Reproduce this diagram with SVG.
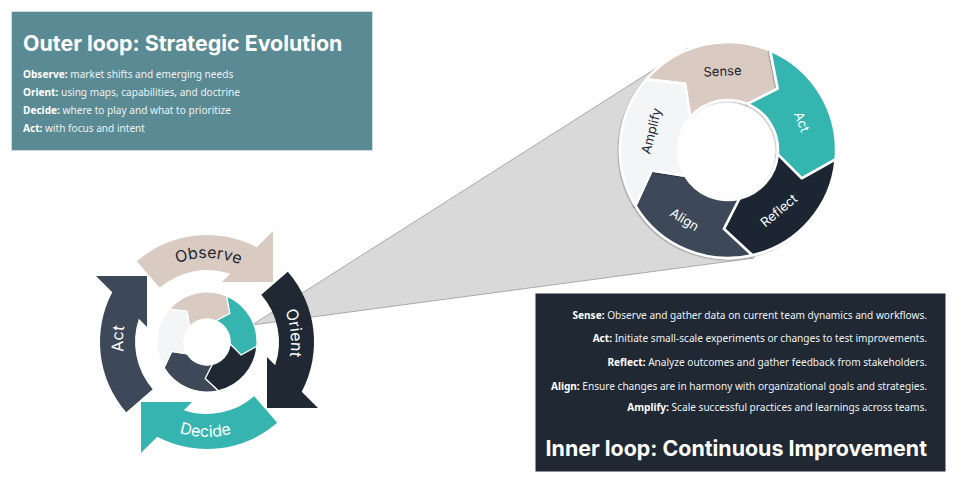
<svg xmlns="http://www.w3.org/2000/svg" width="960" height="480" viewBox="0 0 960 480">
<style>
.ttl{font-family:Inter,"Liberation Sans",sans-serif;font-weight:700;font-size:21.4px;fill:#ffffff}
.body{font-family:"Noto Sans","Liberation Sans",sans-serif;font-size:10.1px;fill:#eef2f3}
.b{font-weight:700;fill:#ffffff}
.seg{stroke:#ffffff;stroke-width:2.5;stroke-linejoin:round}
.lbl{font-family:Inter,"Noto Sans",sans-serif;font-size:13px;text-anchor:middle}
.olbl{font-family:Inter,"Noto Sans",sans-serif;font-size:16px;text-anchor:middle}
.beige{fill:#d9cbc1}
.teal{fill:#36b5b0}
.navy{fill:#1f2833}
.slate{fill:#3d4858}
.light{fill:#f4f5f7}
.dk{fill:#1f2833}
.wt{fill:#ffffff}
</style>
<defs>
<filter id="sh" x="-20%" y="-20%" width="140%" height="140%">
<feDropShadow dx="-1.2" dy="1.2" stdDeviation="0.7" flood-color="#000" flood-opacity="0.22"/>
</filter>
<path id="sSense" d="M 646.49 79.14 A 108 108 0 0 1 770.2 50.58 L 777.71 88.61 L 747.54 103.97 A 50 50 0 0 0 690.26 117.19 L 684.98 83.74 Z"/>
<path id="sAct" d="M 770.2 50.58 A 108 108 0 0 1 835.59 159.41 L 801.75 178.31 L 777.81 154.36 A 50 50 0 0 0 747.54 103.97 L 777.71 88.61 Z"/>
<path id="sReflect" d="M 835.59 159.41 A 108 108 0 0 1 752.3 255.24 L 723.87 228.89 L 739.25 198.72 A 50 50 0 0 0 777.81 154.36 L 801.75 178.31 Z"/>
<path id="sAlign" d="M 752.3 255.24 A 108 108 0 0 1 635.42 205.62 L 651.69 170.45 L 685.14 175.75 A 50 50 0 0 0 739.25 198.72 L 723.87 228.89 Z"/>
<path id="sAmplify" d="M 635.42 205.62 A 108 108 0 0 1 646.49 79.14 L 684.98 83.74 L 690.26 117.19 A 50 50 0 0 0 685.14 175.75 L 651.69 170.45 Z"/>
<path id="pObserve" d="M 148.65 281.58 A 84 84 0 0 1 267.42 283.65"/>
<path id="pOrient" d="M 259.86 276.72 A 84 84 0 0 1 272.28 394.86"/>
<path id="pAct" d="M 145.56 399.29 A 84 84 0 0 1 149.71 280.56"/>
<path id="pDecide" d="M 138.67 408 A 95 95 0 0 0 273 410.33"/>
</defs>

<rect width="960" height="480" fill="#ffffff"/>

<g id="connectors">
<polygon points="252,325 688,48 754,258" fill="#d9d9d9" stroke="#a9a9a9" stroke-width="1"/>
</g>

<g id="outer-box">
<rect x="11.5" y="11.5" width="361" height="139" fill="#5a8a93" stroke="#cddcdf" stroke-width="1"/>
<text class="ttl" x="23" y="51">Outer loop: Strategic Evolution</text>
<text class="body" x="23" y="78"><tspan class="b">Observe:</tspan> market shifts and emerging needs</text>
<text class="body" x="23" y="96"><tspan class="b">Orient:</tspan> using maps, capabilities, and doctrine</text>
<text class="body" x="23" y="114"><tspan class="b">Decide:</tspan> where to play and what to prioritize</text>
<text class="body" x="23" y="132"><tspan class="b">Act:</tspan> with focus and intent</text>
</g>

<g id="outer-observe">
<path class="beige" d="M 159.8 287.7 L 136.8 261.2 A 107 107 0 0 1 256.74 247.26 L 273 231 L 273 282 L 222 282 L 230.17 273.83 A 72 72 0 0 0 159.8 287.7 Z"/>
<text class="olbl dk"><textPath href="#pObserve" startOffset="50%">Observe</textPath></text>
</g>
<g id="outer-orient">
<path class="navy" d="M 261.3 294.8 L 287.8 271.8 A 107 107 0 0 1 301.74 391.74 L 318 408 L 267 408 L 267 357 L 275.17 365.17 A 72 72 0 0 0 261.3 294.8 Z"/>
<text class="olbl wt"><textPath href="#pOrient" startOffset="50%">Orient</textPath></text>
</g>
<g id="outer-decide">
<path class="teal" d="M 254.2 396.3 L 277.2 422.8 A 107 107 0 0 1 157.26 436.74 L 141 453 L 141 402 L 192 402 L 183.83 410.17 A 72 72 0 0 0 254.2 396.3 Z"/>
<text class="olbl wt"><textPath href="#pDecide" startOffset="50%">Decide</textPath></text>
</g>
<g id="outer-act">
<path class="slate" d="M 152.7 389.2 L 126.2 412.2 A 107 107 0 0 1 112.26 292.26 L 96 276 L 147 276 L 147 327 L 138.83 318.83 A 72 72 0 0 0 152.7 389.2 Z"/>
<text class="olbl wt"><textPath href="#pAct" startOffset="50%">Act</textPath></text>
</g>

<g id="inner-ring-small" transform="translate(207 342) scale(0.463) translate(-728 -150)">
<use href="#sSense" class="seg beige"/>
<use href="#sAct" class="seg teal"/>
<use href="#sReflect" class="seg navy"/>
<use href="#sAlign" class="seg slate"/>
<use href="#sAmplify" class="seg light"/>
<circle cx="728" cy="150" r="48.8" fill="#ffffff"/>
</g>

<circle cx="728" cy="150" r="49" fill="#ffffff"/>
<g id="ring-sense">
<use href="#sSense" class="seg beige" filter="url(#sh)"/>
<text class="lbl dk" x="722.5" y="71.2" dy="0.35em" transform="rotate(-3 722.5 71.2)">Sense</text>
</g>
<g id="ring-act">
<use href="#sAct" class="seg teal" filter="url(#sh)"/>
<text class="lbl wt" x="801.75" y="121.69" dy="0.35em" transform="rotate(69 801.75 121.69)">Act</text>
</g>
<g id="ring-reflect">
<use href="#sReflect" class="seg navy" filter="url(#sh)"/>
<text class="lbl wt" x="778.78" y="210.52" dy="0.35em" transform="rotate(-40 778.78 210.52)">Reflect</text>
</g>
<g id="ring-align">
<use href="#sAlign" class="seg slate" filter="url(#sh)"/>
<text class="lbl wt" x="684.5" y="219.5" dy="0.35em" transform="rotate(32 684.5 219.5)">Align</text>
</g>
<g id="ring-amplify">
<use href="#sAmplify" class="seg light" filter="url(#sh)"/>
<text class="lbl dk" x="651.35" y="130.89" dy="0.35em" transform="rotate(-76 651.35 130.89)">Amplify</text>
</g>

<g id="inner-box">
<rect x="535.5" y="293.5" width="410" height="178" fill="#1f2833"/>
<text class="body" x="927" y="319" text-anchor="end"><tspan class="b">Sense:</tspan> Observe and gather data on current team dynamics and workflows.</text>
<text class="body" x="927" y="342" text-anchor="end"><tspan class="b">Act:</tspan> Initiate small-scale experiments or changes to test improvements.</text>
<text class="body" x="927" y="366" text-anchor="end"><tspan class="b">Reflect:</tspan> Analyze outcomes and gather feedback from stakeholders.</text>
<text class="body" x="927" y="390" text-anchor="end"><tspan class="b">Align:</tspan> Ensure changes are in harmony with organizational goals and strategies.</text>
<text class="body" x="927" y="411" text-anchor="end"><tspan class="b">Amplify:</tspan> Scale successful practices and learnings across teams.</text>
<text class="ttl" x="927" y="456" text-anchor="end">Inner loop: Continuous Improvement</text>
</g>
</svg>
